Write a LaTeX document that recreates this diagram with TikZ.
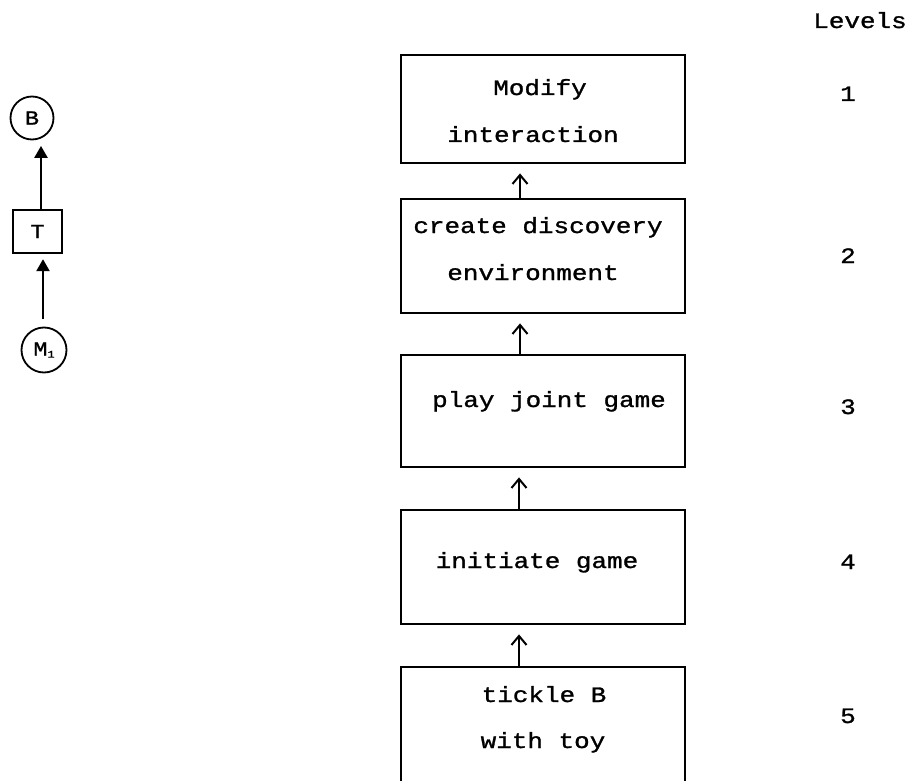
\documentclass[tikz,border=0pt]{standalone}
\usepackage{fontspec}
\usetikzlibrary{arrows.meta}
\newfontfamily\tw[FakeStretch=1.18,FakeBold=1.2]{Liberation Mono}
\begin{document}
\begin{tikzpicture}[x=1pt,y=-1pt,
  box/.style={draw, line width=2.8pt, minimum width=284pt, inner sep=0pt},
  txt/.style={font=\tw\fontsize{22}{26}\selectfont, anchor=base, inner sep=0pt},
  barrow/.style={line width=2pt, -{Straight Barb[length=9pt,width=15pt,line width=2pt]}},
  larrow/.style={line width=2.4pt, -{Triangle[length=12pt,width=13pt]}},
  circ/.style={draw, circle, line width=1.8pt, inner sep=0pt, font=\tw\fontsize{20}{22}\selectfont},
  tbox/.style={draw, line width=2.4pt, minimum width=49pt, minimum height=43pt, inner sep=0pt, font=\tw\fontsize{20}{22}\selectfont}]
\useasboundingbox (0,0) rectangle (923,781);
\clip (0,0) rectangle (923,781);
\fill[white] (0,0) rectangle (923,781);

% left diagram
\node[circ, minimum size=43pt] (B) at (32,118) {B};
\node[tbox] (T) at (37.5,231.5) {T};
\node[circ, minimum size=45pt] (M) at (44,350) {M\raisebox{-2pt}{\fontsize{10}{11}\selectfont 1}};
\draw[larrow] ([xshift=3.5pt]T.north) -- ([xshift=9pt,yshift=-5.5pt]B.south);
\draw[larrow] ([xshift=-1pt,yshift=7.5pt]M.north) -- ([xshift=5.5pt,yshift=-5pt]T.south);

% boxes
\node[box, minimum height=108pt] (b1) at (543,109) {};
\node[box, minimum height=114pt] (b2) at (543,256) {};
\node[box, minimum height=112pt] (b3) at (543,411) {};
\node[box, minimum height=114pt] (b4) at (543,567) {};
\node[box, minimum height=140pt] (b5) at (543,737) {};

\node[txt] (t1a) at (540,95) {Modify};
\node[txt] (t1b) at (533,142) {interaction};
\node[txt] (t2a) at (538,233) {create discovery};
\node[txt] (t2b) at (533,280) {environment};
\node[txt] (t3) at (549,407) {play joint game};
\node[txt] (t4) at (537,568) {initiate game};
\node[txt] (t5a) at (544,702) {tickle B};
\node[txt] (t5b) at (543,748) {with toy};

\draw[barrow] ([xshift=-23pt]b2.north) -- ([xshift=-23pt,yshift=-9pt]b1.south);
\draw[barrow] ([xshift=-23pt]b3.north) -- ([xshift=-23pt,yshift=-9pt]b2.south);
\draw[barrow] ([xshift=-24pt]b4.north) -- ([xshift=-24pt,yshift=-9pt]b3.south);
\draw[barrow] ([xshift=-24pt]b5.north) -- ([xshift=-24pt,yshift=-9pt]b4.south);

% levels
\node[txt] (lv) at (860,28) {Levels};
\node[txt] (l1) at (848,101) {1};
\node[txt] (l2) at (848,263) {2};
\node[txt] (l3) at (848,414) {3};
\node[txt] (l4) at (848,569) {4};
\node[txt] (l5) at (848,723) {5};
\end{tikzpicture}
\end{document}
